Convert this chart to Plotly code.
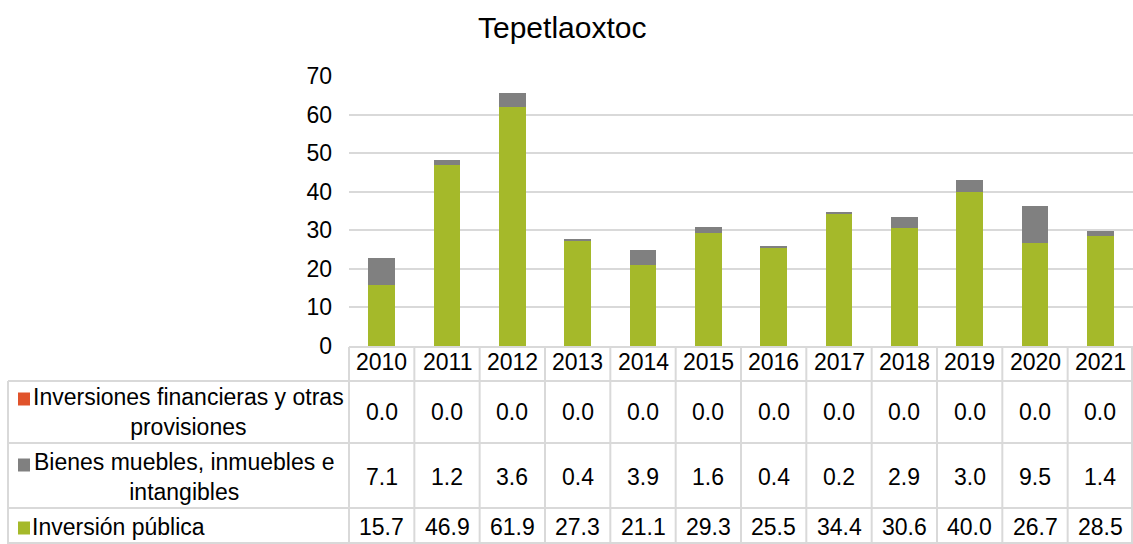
import plotly.graph_objects as go

years = ["2010", "2011", "2012", "2013", "2014", "2015", "2016", "2017", "2018", "2019", "2020", "2021"]
financieras = [0.0] * 12
bienes = [7.1, 1.2, 3.6, 0.4, 3.9, 1.6, 0.4, 0.2, 2.9, 3.0, 9.5, 1.4]
inversion = [15.7, 46.9, 61.9, 27.3, 21.1, 29.3, 25.5, 34.4, 30.6, 40.0, 26.7, 28.5]
series_names = ["Inversiones financieras y otras<br>provisiones",
                "Bienes muebles, inmuebles e<br>intangibles",
                "Inversión pública"]
y_ticks = [0, 10, 20, 30, 40, 50, 60, 70]

W, H = 1133, 544
GREEN = "#A5B92A"
GRAY = "#808080"
ORANGE = "#E0532B"
GRID = "#D9D9D9"
FONT = "Liberation Sans, Arial, sans-serif"

def px(x):
    return x / W

def py(y):
    return 1 - y / H

x_left = 349.0
col_w = (1133 - x_left) / 12
plot_top, plot_bot = 76, 346

fig = go.Figure()
fig.add_bar(x=years, y=inversion, marker=dict(color=GREEN, line=dict(width=0)), name="Inversión pública")
fig.add_bar(x=years, y=bienes, marker=dict(color=GRAY, line=dict(width=0)), name="Bienes")
fig.add_bar(x=years, y=financieras, marker=dict(color=ORANGE, line=dict(width=0)), name="Financieras")

shapes = []
annotations = []

line = dict(color=GRID, width=2)
shapes.append(dict(type="line", xref="paper", yref="paper", x0=px(x_left), x1=px(W), y0=py(347), y1=py(347), line=line))
for yy in [381, 443, 508, 543]:
    shapes.append(dict(type="line", xref="paper", yref="paper", x0=px(8), x1=px(W), y0=py(yy), y1=py(yy), line=line))
shapes.append(dict(type="line", xref="paper", yref="paper", x0=px(8), x1=px(8), y0=py(381), y1=py(544), line=line))
for i in range(13):
    xx = x_left + col_w * i
    if i == 12:
        xx = W - 1
    shapes.append(dict(type="line", xref="paper", yref="paper", x0=px(xx), x1=px(xx), y0=py(347), y1=py(544), line=line))

tf = dict(family=FONT, size=23, color="#000000")
row_centers = [362, 412, 477, 527]
series_vals = [financieras, bienes, inversion]
for i, yr in enumerate(years):
    cx = x_left + col_w * (i + 0.5)
    annotations.append(dict(x=px(cx), y=py(row_centers[0]), xref="paper", yref="paper", text=yr,
                            showarrow=False, font=tf, xanchor="center", yanchor="middle"))
    for r, vals in enumerate(series_vals):
        annotations.append(dict(x=px(cx), y=py(row_centers[r + 1]), xref="paper", yref="paper",
                                text=f"{vals[i]:.1f}", showarrow=False, font=tf, xanchor="center", yanchor="middle"))

colors = [ORANGE, GRAY, GREEN]
label_x = [188, 184, None]
marker_y = [399, 465, 528]
for r, name in enumerate(series_names):
    my = marker_y[r]
    shapes.append(dict(type="rect", xref="paper", yref="paper", x0=px(18), x1=px(30), y0=py(my + 6.5), y1=py(my - 6.5),
                       fillcolor=colors[r], line=dict(width=0)))
    if label_x[r] is not None:
        annotations.append(dict(x=px(label_x[r]), y=py(row_centers[r + 1]), xref="paper", yref="paper", text=name,
                                showarrow=False, font=tf, xanchor="center", yanchor="middle", align="center"))
    else:
        annotations.append(dict(x=px(30), y=py(row_centers[r + 1]), xref="paper", yref="paper", text=name,
                                showarrow=False, font=tf, xanchor="left", yanchor="middle", align="left"))

annotations.append(dict(x=px(562), y=py(27), xref="paper", yref="paper", text="Tepetlaoxtoc", showarrow=False,
                        font=dict(family=FONT, size=30, color="#000000"), xanchor="center", yanchor="middle"))

fig.update_layout(
    width=W, height=H,
    margin=dict(l=0, r=0, t=0, b=0, autoexpand=False),
    barmode="stack", bargap=0.59,
    showlegend=False,
    plot_bgcolor="white", paper_bgcolor="white",
    font=dict(family=FONT, size=23, color="#000000"),
    xaxis=dict(domain=[px(x_left), 1], showticklabels=False, showgrid=False, zeroline=False, showline=False,
               ticks="", automargin=False),
    yaxis=dict(domain=[py(plot_bot), py(plot_top)], range=[0, 70], tickvals=y_ticks, showgrid=True,
               gridcolor=GRID, gridwidth=2, zeroline=False, showline=False, ticks="", automargin=False,
               ticklabelstandoff=16, tickfont=dict(size=23)),
    shapes=shapes, annotations=annotations,
)

fig.write_html("out.html", config={"displayModeBar": False},
               post_script="document.body.style.margin='0';document.body.style.overflow='hidden';")
